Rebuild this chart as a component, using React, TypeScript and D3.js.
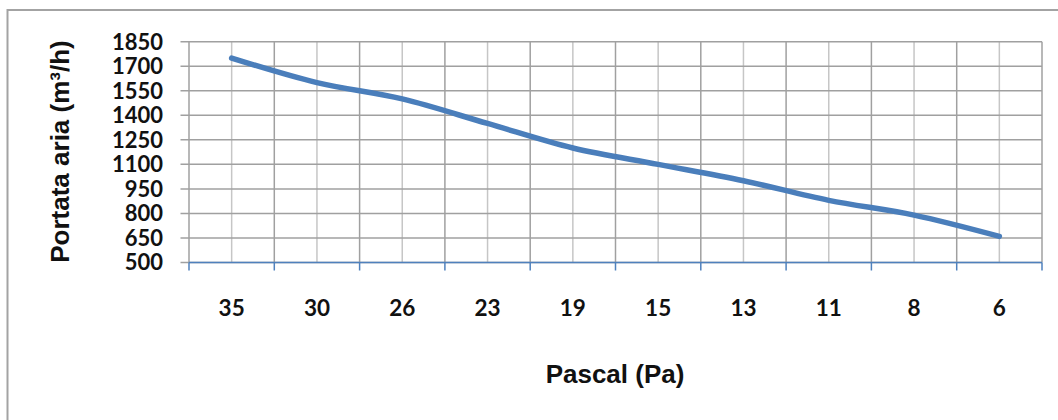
import React from "react";
import * as d3 from "d3";

const categories: string[] = ["35", "30", "26", "23", "19", "15", "13", "11", "8", "6"];
const flowValues: number[] = [1750, 1600, 1500, 1350, 1200, 1100, 1000, 880, 790, 660];
const yTicks: number[] = [500, 650, 800, 950, 1100, 1250, 1400, 1550, 1700, 1850];

const W = 1058;
const H = 420;
const plot = { left: 189, right: 1042, top: 41.7, bottom: 262.5 };

export default function App() {
  const x = d3.scaleBand<string>().domain(categories).range([plot.left, plot.right]).padding(0);
  const y = d3.scaleLinear().domain([500, 1850]).range([plot.bottom, plot.top]);
  const bw = x.bandwidth();
  const boundaries = d3.range(categories.length + 1).map((i) => plot.left + i * bw);
  const centers = categories.map((c) => (x(c) as number) + bw / 2);

  const line = d3
    .line<number>()
    .x((_, i) => centers[i])
    .y((d) => y(d))
    .curve(d3.curveCatmullRom.alpha(0));

  const numFont = "Lato, 'Open Sans', sans-serif";
  const titleFont = "'Liberation Sans', Arial, sans-serif";

  return (
    <svg
      width={W}
      height={H}
      style={{ position: "absolute", left: 0, top: 0, background: "#fff" }}
    >
      {/* outer border */}
      <rect x={7.5} y={10} width={W + 20} height={H + 20} fill="none" stroke="#a3a3a3" strokeWidth={2} />

      {/* minor vertical gridlines at category centres */}
      {centers.map((cx, i) => (
        <line key={"vm" + i} x1={cx} x2={cx} y1={plot.top} y2={plot.bottom} stroke="#c6c6c6" strokeWidth={1.5} />
      ))}
      {/* major vertical gridlines at boundaries */}
      {boundaries.map((bx, i) => (
        <line key={"vb" + i} x1={bx} x2={bx} y1={plot.top} y2={plot.bottom} stroke="#a0a0a0" strokeWidth={1.5} />
      ))}
      {/* horizontal gridlines */}
      {yTicks.map((t) => (
        <line key={"h" + t} x1={plot.left - 8.5} x2={plot.right} y1={y(t)} y2={y(t)} stroke="#a0a0a0" strokeWidth={1.5} />
      ))}

      {/* x axis */}
      <line x1={plot.left} x2={plot.right} y1={plot.bottom} y2={plot.bottom} stroke="#4f81bd" strokeWidth={1.5} />
      {boundaries.map((bx, i) => (
        <line key={"xt" + i} x1={bx} x2={bx} y1={plot.bottom} y2={plot.bottom + 8} stroke="#4f81bd" strokeWidth={1.5} />
      ))}

      {/* data line */}
      <path d={line(flowValues) || ""} fill="none" stroke="#4a7ebb" strokeWidth={5.5} strokeLinecap="round" strokeLinejoin="round" />

      {/* y tick labels */}
      {yTicks.map((t) => (
        <text
          key={"yl" + t}
          x={163}
          y={y(t)}
          dy="0.36em"
          textAnchor="end"
          fontFamily={numFont}
          fontWeight="bold"
          fontSize={22}
          fill="#111"
        >
          {t}
        </text>
      ))}

      {/* x tick labels */}
      {categories.map((c, i) => (
        <text
          key={"xl" + c}
          x={centers[i]}
          y={315.5}
          textAnchor="middle"
          fontFamily={numFont}
          fontWeight="bold"
          fontSize={22.5}
          fill="#111"
        >
          {c}
        </text>
      ))}

      {/* axis titles */}
      <text
        x={615}
        y={383}
        textAnchor="middle"
        fontFamily={titleFont}
        fontWeight="bold"
        fontSize={26}
        fill="#111"
      >
        Pascal (Pa)
      </text>
      <text
        transform={`translate(69, ${(40 + 263) / 2}) rotate(-90)`}
        textAnchor="middle"
        fontFamily={titleFont}
        fontWeight="bold"
        fontSize={26}
        fill="#111"
      >
        Portata aria (m³/h)
      </text>
    </svg>
  );
}
